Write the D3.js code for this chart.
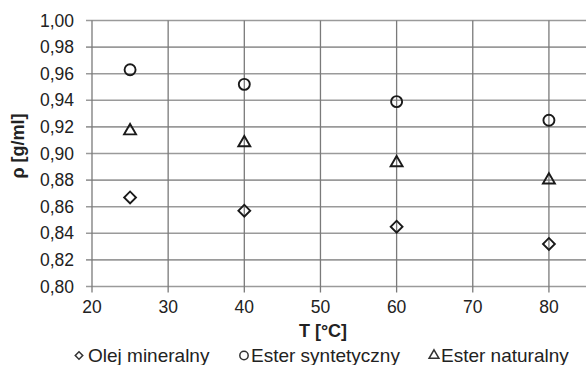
<!DOCTYPE html>
<html><head><meta charset="utf-8">
<script src="https://cdn.jsdelivr.net/npm/d3@7"></script>
<style>html,body{margin:0;padding:0;background:#fff;overflow:hidden}</style>
</head><body>
<svg id="c" width="586" height="365"></svg>
<script>
const temps = [25, 40, 60, 80];
const olejMineralny = [0.867, 0.857, 0.845, 0.832];
const esterSyntetyczny = [0.963, 0.952, 0.939, 0.925];
const esterNaturalny = [0.917, 0.908, 0.893, 0.880];
const xTicks = [20, 30, 40, 50, 60, 70, 80];
const yTicks = [0.80, 0.82, 0.84, 0.86, 0.88, 0.90, 0.92, 0.94, 0.96, 0.98, 1.00];
const seriesNames = ["Olej mineralny", "Ester syntetyczny", "Ester naturalny"];

const svg = d3.select("#c");
const font = "'Liberation Sans', Arial, sans-serif";
const textColor = "#222";
const x = d3.scaleLinear().domain([20, 85]).range([92, 587]);
const y = d3.scaleLinear().domain([0.80, 1.00]).range([286.5, 20.5]);

// horizontal grid
svg.append("g").selectAll("line").data(yTicks).join("line")
  .attr("x1", 86).attr("x2", 586)
  .attr("y1", d => y(d)).attr("y2", d => y(d))
  .attr("stroke", "#9a9a9a").attr("stroke-width", 1.6);
// vertical grid
svg.append("g").selectAll("line").data(xTicks).join("line")
  .attr("x1", d => x(d)).attr("x2", d => x(d))
  .attr("y1", y(1.00)).attr("y2", y(0.80) + 6)
  .attr("stroke", "#7a7a7a").attr("stroke-width", 1.3);

// y tick labels
svg.append("g").selectAll("text").data(yTicks).join("text")
  .attr("x", 74).attr("y", d => y(d) + 6)
  .attr("text-anchor", "end")
  .attr("font-family", font).attr("font-size", 17.5).attr("fill", textColor)
  .text(d => d3.format(".2f")(d).replace(".", ","));
// x tick labels
svg.append("g").selectAll("text").data(xTicks).join("text")
  .attr("x", d => x(d)).attr("y", 313)
  .attr("text-anchor", "middle")
  .attr("font-family", font).attr("font-size", 17.5).attr("fill", textColor)
  .text(d => d);

// axis titles
svg.append("text").attr("x", 323).attr("y", 337).attr("text-anchor", "middle")
  .attr("font-family", font).attr("font-size", 18).attr("font-weight", "bold").attr("fill", textColor)
  .text("T [°C]");
svg.append("text").attr("transform", "translate(24,146) rotate(-90)").attr("text-anchor", "middle")
  .attr("font-family", font).attr("font-size", 18).attr("font-weight", "bold").attr("fill", textColor)
  .text("ρ [g/ml]");

const symDiamond = d3.symbol().type(d3.symbolSquare).size(70);
const symCircle = d3.symbol().type(d3.symbolCircle).size(95);
const symTri = d3.symbol().type(d3.symbolTriangle).size(62);
const mk = "#1a1a1a";

function drawSeries(vals, sym, rot, dy) {
  svg.append("g").selectAll("path").data(temps).join("path")
    .attr("d", sym())
    .attr("transform", (t, i) => `translate(${x(t)},${y(vals[i]) + dy}) rotate(${rot})`)
    .attr("fill", "none").attr("stroke", mk).attr("stroke-width", 1.9);
}
drawSeries(olejMineralny, symDiamond, 45, 0);
drawSeries(esterSyntetyczny, symCircle, 0, 0);
drawSeries(esterNaturalny, symTri, 0, 0);

// legend
const legX = [79, 244, 434];
const legTextX = [88, 251, 441];
const legSyms = [d3.symbol().type(d3.symbolSquare).size(28), d3.symbol().type(d3.symbolCircle).size(55), d3.symbol().type(d3.symbolTriangle).size(42)];
const legRot = [45, 0, 0];
const lg = svg.append("g");
seriesNames.forEach((n, i) => {
  lg.append("path").attr("d", legSyms[i]())
    .attr("transform", `translate(${legX[i]},${355.5}) rotate(${legRot[i]})`)
    .attr("fill", "none").attr("stroke", "#333").attr("stroke-width", 1.5);
  lg.append("text").attr("x", legTextX[i]).attr("y", 361.5)
    .attr("font-family", font).attr("font-size", 19).attr("fill", textColor)
    .text(n);
});
</script>
</body></html>
